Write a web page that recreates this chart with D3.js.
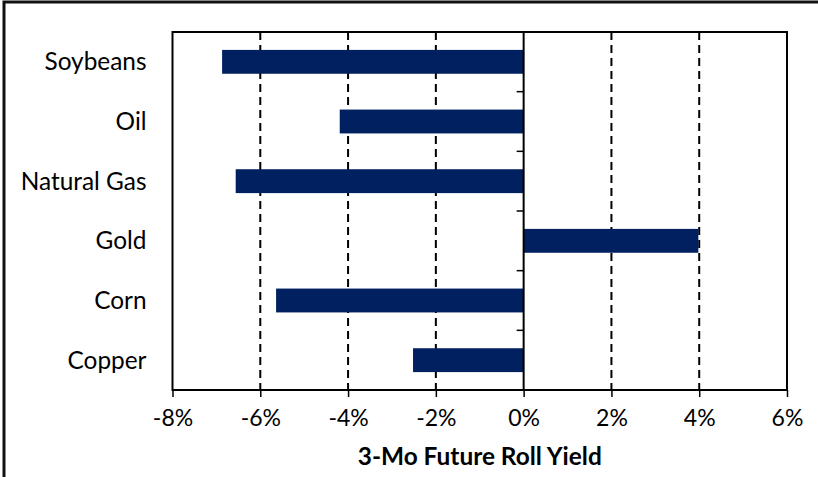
<!DOCTYPE html>
<html><head><meta charset="utf-8">
<script src="https://cdn.jsdelivr.net/npm/d3@7"></script>
<style>body{margin:0;background:#fff}svg{display:block}</style>
</head><body>
<script>
const categories = ["Soybeans","Oil","Natural Gas","Gold","Corn","Copper"];
const values = [-0.0687,-0.0419,-0.0656,0.0398,-0.0564,-0.0252];
const xTicks = [-0.08,-0.06,-0.04,-0.02,0,0.02,0.04,0.06];
const xTitle = "3-Mo Future Roll Yield";

const W=818,H=477;
const m={left:172.5,right:787,top:32,bottom:390};
const font="Lato, 'Open Sans', sans-serif";
const svg=d3.select("body").append("svg").attr("width",W).attr("height",H);
svg.append("rect").attr("width",W).attr("height",H).attr("fill","#fff");
// outer frame (cut at right/bottom)
svg.append("rect").attr("x",4).attr("y",2).attr("width",W+20).attr("height",H+20)
  .attr("fill","none").attr("stroke","#111").attr("stroke-width",3);

const x=d3.scaleLinear().domain([-0.08,0.06]).range([m.left,m.right]);
const y=d3.scaleBand().domain(categories).range([m.top,m.bottom]).paddingInner(0.6).paddingOuter(0.3);
const yb=d3.scaleBand().domain(categories).range([m.top,m.bottom]);

// gridlines
svg.append("g").selectAll("line").data(xTicks.filter(t=>t!==0&&t!==-0.08&&t!==0.06)).join("line")
  .attr("x1",d=>x(d)).attr("x2",d=>x(d)).attr("y1",m.top).attr("y2",m.bottom)
  .attr("stroke","#000").attr("stroke-width",2).attr("stroke-dasharray","8,5");

// bars
svg.append("g").selectAll("rect").data(values).join("rect")
  .attr("x",d=>x(Math.min(0,d))).attr("width",d=>Math.abs(x(d)-x(0)))
  .attr("y",(d,i)=>y(categories[i])).attr("height",y.bandwidth())
  .attr("fill","#002060");

// plot border
svg.append("rect").attr("x",m.left).attr("y",m.top).attr("width",m.right-m.left).attr("height",m.bottom-m.top)
  .attr("fill","none").attr("stroke","#000").attr("stroke-width",2);

// zero line with y ticks
const ya=svg.append("g").attr("transform",`translate(${x(0)},0)`);
ya.append("line").attr("y1",m.top).attr("y2",m.bottom).attr("stroke","#000").attr("stroke-width",2);
const bounds=categories.map(c=>yb(c)).concat([m.bottom]);
ya.selectAll("line.t").data(bounds).join("line").attr("class","t")
  .attr("x1",-7).attr("x2",0).attr("y1",d=>d).attr("y2",d=>d).attr("stroke","#000").attr("stroke-width",1.5);

// category labels
svg.append("g").selectAll("text").data(categories).join("text")
  .attr("x",m.left-26).attr("y",d=>yb(d)+yb.bandwidth()/2).attr("dy","0.35em")
  .attr("text-anchor","end").attr("font-family",font).attr("font-size",24.4).attr("fill","#000").text(d=>d);

// x axis
const xAxis=d3.axisBottom(x).tickValues(xTicks).tickSize(7).tickPadding(13).tickFormat(d3.format(".0%"));
const xa=svg.append("g").attr("transform",`translate(0,${m.bottom})`).call(xAxis);
xa.select(".domain").remove();
xa.selectAll(".tick line").attr("stroke","#000").attr("stroke-width",1.5);
xa.selectAll(".tick text").attr("font-family",font).attr("font-size",23).attr("fill","#000")
  .text(d=>(d<0?"-":"")+Math.round(Math.abs(d)*100)+"%");

svg.append("text").attr("x",(m.left+m.right)/2).attr("y",465).attr("text-anchor","middle")
  .attr("font-family",font).attr("font-weight","bold").attr("font-size",24.4).attr("fill","#000").text(xTitle);
</script>
</body></html>
